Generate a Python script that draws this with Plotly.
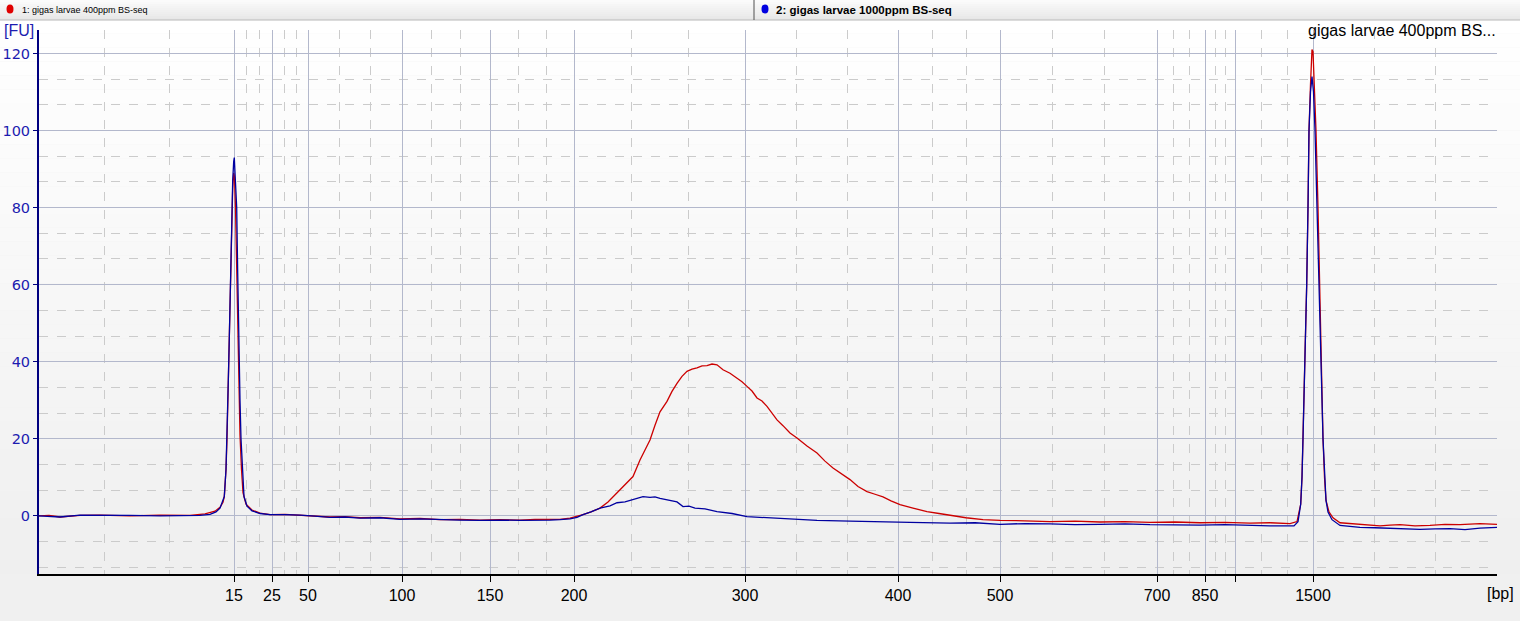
import plotly.graph_objects as go

# ---------------- data (x = acquisition index along the migration axis) ----------------
ladder_bp = ["15", "25", "50", "100", "150", "200", "300", "400", "500", "700", "850", "1000", "1500"]
ladder_idx = [195, 233, 269, 363, 451, 535, 706, 859, 961, 1118, 1166, 1196, 1274]
ladder_shown = [True, True, True, True, True, True, True, True, True, True, True, False, True]

name_400 = "gigas larvae 400ppm BS-seq"
name_1000 = "gigas larvae 1000ppm BS-seq"

idx_400 = [0, 10, 21, 41, 61, 91, 121, 151, 166, 176, 181, 184, 185.3, 187, 188, 189.3, 190.3, 191.5,
           192.7, 193.7, 194.7, 195.5, 196.5, 197.7, 198.7, 200, 201, 202.5, 204, 207, 213, 221, 231,
           246, 261, 276, 291, 306, 321, 341, 361, 381, 401, 421, 441, 461, 481, 496, 511, 521, 531, 538, 544,
           552, 561, 569, 578, 586, 594, 601, 606, 611, 616, 621, 628, 633, 638, 643, 648, 653, 658, 663,
           668, 673, 678, 684, 691, 698, 703, 708, 713, 718, 723, 728, 733, 738, 744,
           751, 758, 768, 778, 786, 794, 802, 811, 819, 828, 836, 844, 852, 861, 874, 888, 900, 911, 927,
           944, 961, 986, 1011, 1036, 1061, 1086,
           1111, 1136, 1161, 1186, 1211, 1231, 1251, 1258, 1261.7, 1263, 1264, 1266, 1267.7, 1269,
           1270, 1271.5, 1273, 1274, 1275.5, 1277, 1279, 1280.5, 1282, 1284, 1285.5, 1287, 1290,
           1294, 1301, 1311, 1321, 1331, 1341, 1351, 1361, 1376, 1391, 1406, 1421, 1441, 1458]
fu_400 = [0.0, 0.1, -0.3, 0.1, 0.2, 0.0, 0.2, 0.1, 0.5, 1.2, 2.2, 3.5, 5, 12, 20, 35, 46, 62,
          78, 85, 89, 88, 80, 64, 47, 31, 21, 12, 6, 3, 1.5, 0.7, 0.3,
          0.4, 0.2, 0.0, -0.3, -0.2, -0.5, -0.4, -0.8, -0.7, -1.0, -0.9, -1.1, -1.0, -1.1, -0.9, -1.0, -0.9, -0.6, -0.2, 0.3,
          1.0, 2.0, 3.6, 5.9, 8.0, 10.2, 14.5, 17.0, 19.7, 23.5, 27.0, 29.7, 32.3, 34.4, 36.2, 37.5, 38.1, 38.4, 38.9,
          39.0, 39.4, 39.2, 37.9, 37.0, 35.8, 34.8, 33.6, 32.4, 30.6, 29.8, 28.4, 26.6, 24.9, 23.4,
          21.5, 20.2, 18.1, 16.3, 14.2, 12.4, 10.9, 9.4, 7.6, 6.3, 5.6, 4.9, 3.9, 2.9, 2.0, 1.1, 0.6, 0.1, -0.5,
          -1.0, -1.2, -1.3, -1.5, -1.4, -1.6, -1.5,
          -1.7, -1.6, -1.8, -1.7, -1.9, -1.8, -2.0, -1.5, 3, 10, 20, 40, 60, 80,
          100, 112, 121, 120.5, 112, 100, 80, 60, 40, 20, 10, 4, 1,
          -0.5, -1.8, -2.0, -2.2, -2.5, -2.6, -2.4, -2.3, -2.6, -2.5, -2.2, -2.3, -2.0, -2.2]

idx_1000 = [0, 10, 21, 41, 61, 91, 121, 151, 161, 171, 177, 181, 183.5, 185.3, 187, 188, 189.3, 190.3,
            191.5, 192.7, 193.7, 194.7, 195.3, 196.2, 197.7, 198.7, 199.7, 201, 202, 203.5, 205, 208,
            213, 221, 231, 246, 261, 276, 291, 306, 321, 341, 361, 381, 401, 421, 441, 461, 481, 496,
            511, 521, 531, 538, 544, 552, 561, 571, 578, 586, 594, 599, 604, 611, 616, 621, 631, 638, 644, 650,
            656, 666, 678, 693, 708, 731, 751, 778,
            811, 844, 871, 911, 936, 961, 986, 1011, 1036, 1061, 1086, 1111, 1136, 1161, 1186, 1211,
            1231, 1255, 1259, 1261.7, 1263, 1264, 1266, 1267.7, 1269, 1270, 1271.5, 1273, 1274.5, 1276,
            1278, 1280.3, 1282, 1284, 1285.5, 1287, 1289, 1293, 1301, 1311, 1321, 1336, 1351, 1366,
            1381, 1396, 1411, 1426, 1441, 1458]
fu_1000 = [0.0, -0.1, -0.3, 0.2, 0.1, 0.1, 0.0, 0.2, 0.1, 0.4, 1.0, 2.0, 3.5, 5, 12, 20, 35, 46,
           63, 80, 87, 92, 93, 88, 80, 63, 46, 30, 20, 11, 5, 2.5,
           1.3, 0.6, 0.3, 0.3, 0.2, -0.1, -0.4, -0.3, -0.6, -0.5, -0.9, -0.8, -1.0, -1.1, -1.2, -1.1, -1.2, -1.2,
           -1.1, -1.0, -0.8, -0.4, 0.3, 1.0, 2.0, 2.6, 3.4, 3.6, 4.3, 4.6, 5.0, 4.8, 4.9, 4.5, 4.0, 3.6, 2.4, 2.5,
           2.0, 1.8, 1.1, 0.6, -0.2, -0.5, -0.9, -1.2,
           -1.4, -1.5, -1.7, -1.9, -1.8, -2.2, -2.0, -2.1, -2.3, -2.2, -2.1, -2.3, -2.4, -2.4, -2.3, -2.5,
           -2.6, -2.6, -1.5, 3, 10, 20, 40, 60, 80, 100, 110, 114, 110, 100,
           80, 60, 40, 20, 10, 4, 1, -1.0, -2.5, -2.8, -3.0, -3.1, -3.2, -3.4,
           -3.5, -3.4, -3.3, -3.6, -3.2, -3.0]

# ---------------- geometry helpers (pixel -> paper) ----------------
W, H = 1520, 621
ML, MR, MT, MB = 39, 23, 30, 47
PW, PH = W - ML - MR, H - MT - MB


def px2x(px):
    return (px - ML) / PW


def py2y(py):
    return (H - MB - py) / PH


RED = "#cc0000"
BLUE = "#0000a0"
FONT = "Liberation Sans, Arial, sans-serif"
YFONT = "DejaVu Sans, Verdana, sans-serif"

fig = go.Figure()
fig.add_trace(go.Scatter(x=idx_400, y=fu_400, mode="lines", name=name_400,
                         line=dict(color=RED, width=1.3), showlegend=False))
fig.add_trace(go.Scatter(x=idx_1000, y=fu_1000, mode="lines", name=name_1000,
                         line=dict(color=BLUE, width=1.3), showlegend=False))

# minor (dashed) verticals: thirds between consecutive ladder marks and the plot edges
edges = [0] + ladder_idx + [PW]
minor_x = []
for a, b in zip(edges[:-1], edges[1:]):
    minor_x += [a + (b - a) / 3, a + 2 * (b - a) / 3]

shapes = []
# panel gradient
n = 40
top, bot = 20, H - MB
for i in range(n):
    y0 = top + (bot - top) * i / n
    y1 = top + (bot - top) * (i + 1) / n
    c = int(round(255 - (255 - 239) * (i + 0.5) / n))
    shapes.append(dict(type="rect", xref="paper", yref="paper", layer="below",
                       x0=px2x(0), x1=px2x(W), y0=py2y(y1), y1=py2y(y0),
                       fillcolor=f"rgb({c},{c},{c})", line=dict(width=0)))
# header bar
for i in range(10):
    y0 = 2 * i
    y1 = 2 * (i + 1)
    c = int(round(252 - (252 - 230) * (i + 0.5) / 10))
    shapes.append(dict(type="rect", xref="paper", yref="paper", layer="below",
                       x0=px2x(0), x1=px2x(W), y0=py2y(y1), y1=py2y(y0),
                       fillcolor=f"rgb({c},{c},{c})", line=dict(width=0)))
shapes.append(dict(type="line", xref="paper", yref="paper", x0=px2x(0), x1=px2x(W),
                   y0=py2y(20), y1=py2y(20), line=dict(color="#b8b8b8", width=1)))
shapes.append(dict(type="line", xref="paper", yref="paper", x0=px2x(754), x1=px2x(754),
                   y0=py2y(0), y1=py2y(20), line=dict(color="#505050", width=1)))
# legend dots
for cx, col in [(10, "#e00000"), (765, "#0000e0")]:
    shapes.append(dict(type="circle", xref="paper", yref="paper",
                       x0=px2x(cx - 3.5), x1=px2x(cx + 3.5), y0=py2y(13.5), y1=py2y(4.5),
                       fillcolor=col, line=dict(width=0)))

annotations = [
    dict(text="1: " + name_400, xref="paper", yref="paper", x=px2x(20), y=py2y(9.5),
         xanchor="left", yanchor="middle", showarrow=False, font=dict(family=FONT, size=9, color="#000")),
    dict(text="<b>2: " + name_1000 + "</b>", xref="paper", yref="paper", x=px2x(774), y=py2y(9.5),
         xanchor="left", yanchor="middle", showarrow=False, font=dict(family=FONT, size=11.5, color="#000")),
    dict(text="[FU]", xref="paper", yref="paper", x=px2x(2), y=py2y(31),
         xanchor="left", yanchor="middle", showarrow=False, font=dict(family=FONT, size=16, color="#1c1cb0")),
    dict(text="[bp]", xref="paper", yref="paper", x=px2x(1500), y=py2y(593),
         xanchor="center", yanchor="middle", showarrow=False, font=dict(family=FONT, size=16, color="#000")),
    dict(text=name_400[:-4] + "...", xref="paper", yref="paper", x=px2x(1498), y=py2y(31),
         xanchor="right", yanchor="middle", showarrow=False, font=dict(family=FONT, size=16, color="#000")),
]

fig.update_layout(
    width=W, height=H,
    margin=dict(l=ML, r=MR, t=MT, b=MB, pad=0, autoexpand=False),
    paper_bgcolor="#f0f0f0",
    plot_bgcolor="rgba(0,0,0,0)",
    shapes=shapes,
    annotations=annotations,
    showlegend=False,
    xaxis=dict(
        range=[0, PW], tickmode="array", tickvals=ladder_idx, automargin=False,
        ticktext=[t if s else "" for t, s in zip(ladder_bp, ladder_shown)],
        ticks="outside", ticklen=6, tickwidth=1, tickcolor="#000",
        showline=True, linecolor="#000", linewidth=1.5,
        showgrid=True, gridcolor="#b3b8cc", gridwidth=1, zeroline=False,
        tickfont=dict(family=FONT, size=16, color="#000"),
        minor=dict(tickmode="array", tickvals=minor_x, showgrid=True, gridcolor="#cbcbcb",
                   griddash="dash", gridwidth=1, ticks=""),
    ),
    yaxis=dict(
        range=[-15.1, 126.1], tick0=0, dtick=20, automargin=False,
        ticks="outside", ticklen=4, tickwidth=1, tickcolor="#000080",
        showline=True, linecolor="#000080", linewidth=2,
        showgrid=True, gridcolor="#b3b8cc", gridwidth=1, zeroline=False,
        tickfont=dict(family=YFONT, size=14.5, color="#1c1cb0"),
        minor=dict(tick0=0, dtick=20 / 3, showgrid=True, gridcolor="#cbcbcb",
                   griddash="dash", gridwidth=1, ticks=""),
    ),
)

fig.write_html("out.html", config={"displayModeBar": False},
               post_script="document.body.style.margin='0';document.body.style.background='#f0f0f0';")
